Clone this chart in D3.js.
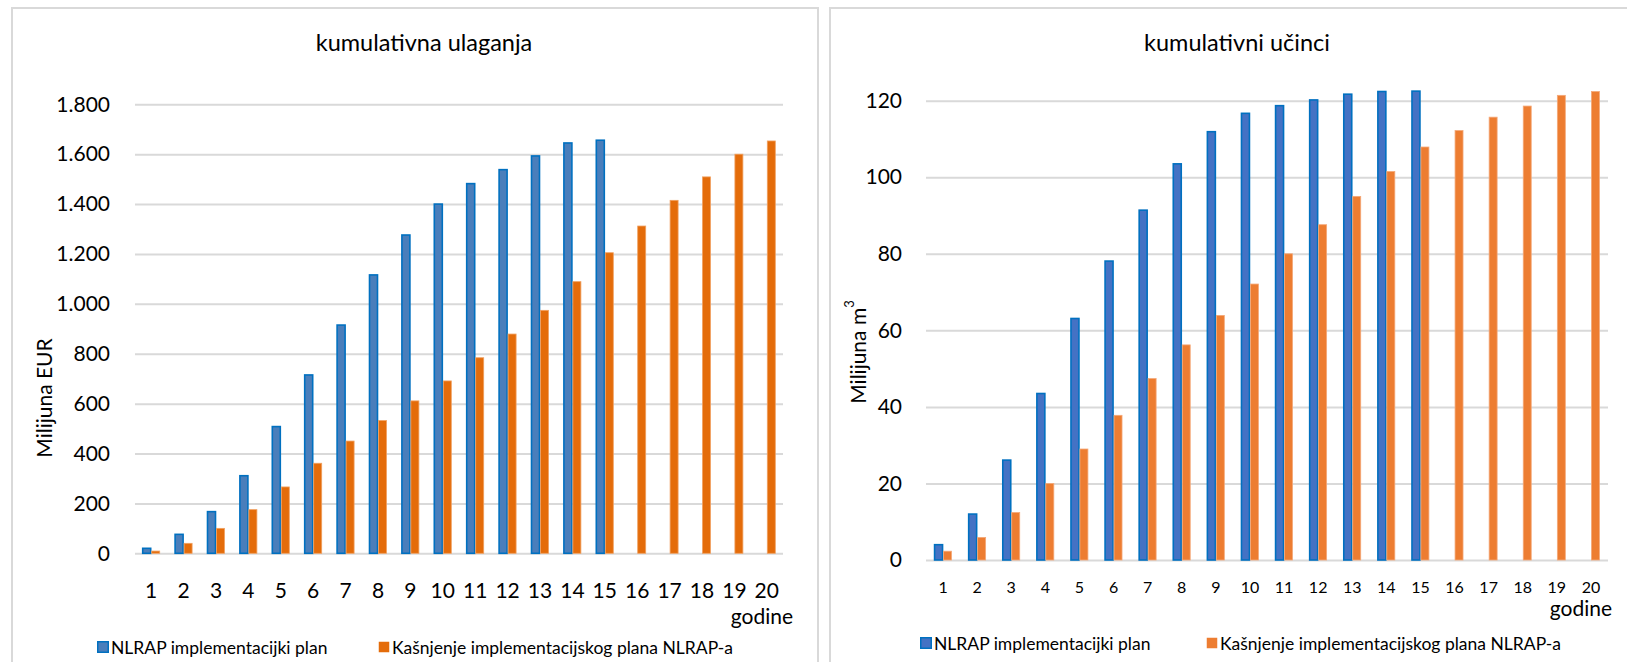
<!DOCTYPE html>
<html><head><meta charset="utf-8">
<script src="https://cdn.jsdelivr.net/npm/d3@7/dist/d3.min.js"></script>
<style>
body{margin:0;background:#fff}
svg{display:block}
text{font-family:Lato,"Open Sans",sans-serif;fill:#000}
</style>
</head><body>
<svg id="c" width="1627" height="662"></svg>
<script>
// ---------- data ----------
const years = ["1","2","3","4","5","6","7","8","9","10","11","12","13","14","15","16","17","18","19","20"];
const seriesNames = ["NLRAP implementacijki plan", "Kašnjenje implementacijskog plana NLRAP-a"];

// kumulativna ulaganja (Milijuna EUR)
const investPlan  = [20, 76, 167, 311, 508, 715, 915, 1116, 1276, 1400, 1482, 1538, 1593, 1645, 1656, null, null, null, null, null];
const investDelay = [9, 40, 100, 175, 266, 361, 450, 532, 611, 691, 784, 879, 974, 1089, 1205, 1312, 1415, 1509, 1600, 1653];
const investTicks = [0, 200, 400, 600, 800, 1000, 1200, 1400, 1600, 1800];

// kumulativni učinci (Milijuna m3)
const effectPlan  = [4.0, 12.0, 26.1, 43.5, 63.1, 78.1, 91.4, 103.5, 111.9, 116.7, 118.7, 120.2, 121.7, 122.4, 122.5, null, null, null, null, null];
const effectDelay = [2.3, 5.9, 12.4, 20.0, 29.0, 37.8, 47.4, 56.2, 63.9, 72.1, 80.0, 87.6, 95.0, 101.5, 107.9, 112.2, 115.7, 118.6, 121.4, 122.4];
const effectTicks = [0, 20, 40, 60, 80, 100, 120];

// ---------- drawing ----------
const svg = d3.select("#c");
const hr = d3.formatLocale({decimal: ",", thousands: ".", grouping: [3], currency: ["", " €"]});

function panel(cfg) {
  const g = svg.append("g");
  // panel border
  g.append("rect").attr("x", cfg.box[0]).attr("y", cfg.box[1])
    .attr("width", cfg.box[2] - cfg.box[0]).attr("height", cfg.box[3] - cfg.box[1])
    .attr("fill", "#fff").attr("stroke", "#d9d9d9").attr("stroke-width", 2);

  g.append("text").attr("x", cfg.titleX).attr("y", cfg.titleY)
    .attr("text-anchor", "middle").attr("dominant-baseline", "central")
    .attr("font-size", cfg.titleFont).text(cfg.title);

  const y = d3.scaleLinear().domain([0, cfg.max]).range([cfg.plot.y0, cfg.plot.y1]);
  const x = d3.scaleBand().domain(years).range([cfg.plot.x0, cfg.plot.x1]).padding(0);
  const xs = d3.scaleBand().domain([0, 1]).range([0, x.bandwidth()]).paddingOuter(cfg.outerPad).paddingInner(0);

  // gridlines
  const grid = g.append("g").attr("transform", `translate(${cfg.plot.x0},0)`)
    .call(d3.axisLeft(y).tickValues(cfg.ticks).tickSize(-(cfg.plot.x1 - cfg.plot.x0)).tickFormat(""));
  grid.select(".domain").remove();
  grid.selectAll("line").attr("stroke", "#d9d9d9").attr("stroke-width", 2);

  // y tick labels
  const ya = g.append("g").attr("transform", `translate(${cfg.plot.x0},0)`)
    .call(d3.axisLeft(y).tickValues(cfg.ticks).tickSize(0).tickPadding(cfg.plot.x0 - cfg.tickRight).tickFormat(cfg.fmt));
  ya.select(".domain").remove();
  ya.selectAll("text").attr("font-size", cfg.tickFont).attr("font-family", "Lato,sans-serif").attr("fill", "#000");

  // x labels
  const xa = g.append("g").attr("transform", `translate(0,${cfg.xLabelY})`)
    .call(d3.axisBottom(x).tickSize(0).tickPadding(0));
  xa.select(".domain").remove();
  xa.selectAll("text").attr("font-size", cfg.xFont).attr("font-family", "Lato,sans-serif")
    .attr("fill", "#000").attr("dy", null).attr("dominant-baseline", "central");

  // bars
  const series = [cfg.plan, cfg.delay];
  series.forEach((vals, si) => {
    const data = years.map((c, i) => ({c, v: vals[i]})).filter(d => d.v != null);
    g.append("g").selectAll("rect").data(data).join("rect")
      .attr("x", d => x(d.c) + xs(si) + 0.5)
      .attr("width", xs.bandwidth() - 1)
      .attr("y", d => y(d.v))
      .attr("height", d => y(0) - y(d.v))
      .attr("fill", si === 0 ? cfg.blue : cfg.orange)
      .attr("stroke", si === 0 ? cfg.blueStroke : cfg.orangeStroke)
      .attr("stroke-width", si === 0 ? 1.6 : 0.8);
  });

  // axis title
  const yl = g.append("text")
    .attr("transform", `translate(${cfg.ylabel.x},${cfg.ylabel.y}) rotate(-90)`)
    .attr("text-anchor", "middle").attr("dominant-baseline", "central")
    .attr("font-size", cfg.ylabel.font);
  yl.append("tspan").text(cfg.ylabel.text);
  if (cfg.ylabel.sup) {
    yl.append("tspan").attr("font-size", cfg.ylabel.font * 0.62).attr("dy", -cfg.ylabel.font * 0.38).text(cfg.ylabel.sup);
  }

  g.append("text").attr("x", cfg.godine.x).attr("y", cfg.godine.y)
    .attr("text-anchor", "end").attr("dominant-baseline", "central")
    .attr("font-size", cfg.godine.font).text("godine");

  // legend
  const lg = g.append("g");
  [[cfg.legend.blueX, cfg.blue, cfg.blueStroke], [cfg.legend.orangeX, cfg.orange, cfg.orange]].forEach((it, i) => {
    lg.append("rect").attr("x", it[0] + 0.75).attr("y", cfg.legend.y - 5.25).attr("width", 10.5).attr("height", 10.5)
      .attr("fill", it[1]).attr("stroke", it[2]).attr("stroke-width", i === 0 ? 1.5 : 0);
    lg.append("text").attr("x", it[0] + 14).attr("y", cfg.legend.y)
      .attr("dominant-baseline", "central").attr("font-size", cfg.legend.font).text(seriesNames[i]);
  });
}

panel({
  box: [12, 8, 818, 720],
  title: "kumulativna ulaganja", titleX: 424, titleY: 42, titleFont: 23.5,
  plot: {x0: 135, x1: 783, y0: 553.3, y1: 104.3},
  max: 1800, ticks: investTicks, fmt: hr.format(",d"),
  tickFont: 21, tickRight: 110,
  xFont: 21, xLabelY: 589,
  plan: investPlan, delay: investDelay, outerPad: 0.8,
  blue: "#4a7ebb", blueStroke: "#0070c0", orange: "#e46c0a", orangeStroke: "#f0a060",
  ylabel: {x: 43, y: 398, text: "Milijuna EUR", font: 21},
  godine: {x: 793, y: 615, font: 21},
  legend: {y: 647, blueX: 97, orangeX: 378, font: 17.5}
});

panel({
  box: [830, 8, 1660, 720],
  title: "kumulativni učinci", titleX: 1237, titleY: 42, titleFont: 23.5,
  plot: {x0: 926, x1: 1608, y0: 560, y1: 100.7},
  max: 120, ticks: effectTicks, fmt: d3.format("d"),
  tickFont: 21, tickRight: 902,
  xFont: 16, xLabelY: 586,
  plan: effectPlan, delay: effectDelay, outerPad: 0.9,
  blue: "#4472c4", blueStroke: "#0070c0", orange: "#ed7d31", orangeStroke: "#f4a878",
  ylabel: {x: 857, y: 352, text: "Milijuna m", sup: "3", font: 21},
  godine: {x: 1612, y: 607, font: 21},
  legend: {y: 643, blueX: 920, orangeX: 1206, font: 17.5}
});
</script>
</body></html>
